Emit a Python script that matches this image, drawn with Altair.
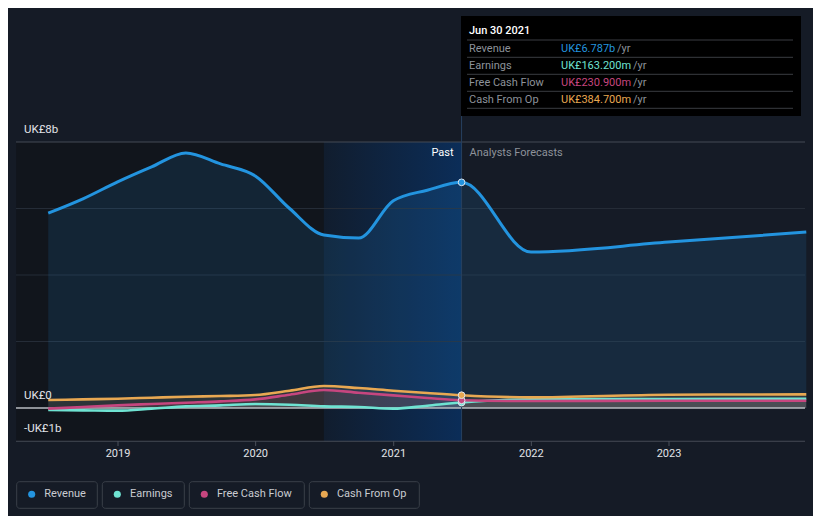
import altair as alt
import pandas as pd

BG = "#151b26"
FONT = "Roboto"

# ---------------- data ----------------
past_dates = ["2018-06-30", "2018-09-30", "2018-12-31", "2019-03-31", "2019-06-30",
              "2019-09-30", "2019-12-31", "2020-03-31", "2020-06-30", "2020-09-30",
              "2020-12-31", "2021-03-31", "2021-06-30"]
forecast_dates = ["2021-12-31", "2022-12-31", "2023-12-31"]
dates = past_dates + forecast_dates

revenue = [5.86, 6.29, 6.80, 7.25, 7.67, 7.34, 6.98, 6.00, 5.20, 5.11, 6.23, 6.55, 6.787,
           4.69, 4.99, 5.29]
earnings = [-0.06, -0.07, -0.08, -0.02, 0.05, 0.08, 0.12, 0.10, 0.05, 0.03, -0.02, 0.07, 0.1632,
            0.26, 0.27, 0.28]
free_cash_flow = [-0.02, 0.03, 0.08, 0.12, 0.16, 0.20, 0.26, 0.40, 0.54, 0.46, 0.38, 0.30, 0.2309,
                  0.21, 0.22, 0.22]
cash_from_op = [0.24, 0.26, 0.28, 0.31, 0.34, 0.36, 0.39, 0.52, 0.66, 0.60, 0.52, 0.45, 0.3847,
                0.32, 0.40, 0.41]

series_names = ["Revenue", "Earnings", "Free Cash Flow", "Cash From Op"]
series_colors = ["#2394df", "#6fe3d2", "#c6467f", "#e8a852"]
series_values = [revenue, earnings, free_cash_flow, cash_from_op]

grid_values = [8, 6, 4, 2, 0, -1]
y_label_values = [8, 0, -1]
y_label_texts = ["UK£8b", "UK£0", "-UK£1b"]
x_tick_dates = ["2019-01-01", "2020-01-01", "2021-01-01", "2022-01-01", "2023-01-01"]
x_tick_labels = ["2019", "2020", "2021", "2022", "2023"]

past_end = "2021-06-30"
highlight_start = "2020-06-30"
plot_left = "2018-04-06"
tooltip_title = "Jun 30 2021"

# ---------------- tables ----------------
rows = []
for name, vals in zip(series_names, series_values):
    for d, v in zip(dates, vals):
        rows.append({"date": d, "value": v, "series": name})
df = pd.DataFrame(rows)
df_rev = df[df.series == "Revenue"]
df_small = df[df.series != "Revenue"]
df_mark = df[df.date == past_end]

# ---------------- scales ----------------
W, H = 805, 508
# calibration: 2019-01-01 -> chart x 110, 2023-01-01 -> chart x 661
t19 = pd.Timestamp("2019-01-01").value / 1e6
t23 = pd.Timestamp("2023-01-01").value / 1e6
ms_per_px = (t23 - t19) / (661 - 110)
x_domain = [t19 - 110 * ms_per_px, t19 + (W - 110) * ms_per_px]
x_scale = alt.Scale(domain=x_domain)
y_scale = alt.Scale(domain=[(400 - H) / 33.25, 400 / 33.25], nice=False, zero=False)
color_scale = alt.Scale(domain=series_names, range=series_colors)

X = lambda f: alt.X(f, type="temporal", scale=x_scale, axis=None)
Y = lambda f: alt.Y(f, type="quantitative", scale=y_scale, axis=None)

layers = []

# background regions
regions = pd.DataFrame({"start": [plot_left], "end": [highlight_start], "lo": [-1], "hi": [8]})
layers.append(alt.Chart(regions).mark_rect(color="#11151c").encode(
    x=X("start"), x2="end", y=Y("lo"), y2="hi"))
hl = pd.DataFrame({"start": [highlight_start], "end": [past_end], "lo": [-1], "hi": [8]})
layers.append(alt.Chart(hl).mark_rect(
    fill=alt.Gradient(gradient="linear",
                      stops=[alt.GradientStop(color="#111d2e", offset=0),
                             alt.GradientStop(color="#0b2d58", offset=1)],
                      x1=0, x2=1, y1=0, y2=0)).encode(
    x=X("start"), x2="end", y=Y("lo"), y2="hi"))

# gridlines
gdf = pd.DataFrame({"v": grid_values})
gdf["kind"] = ["edge" if v in (8, -1) else ("zero" if v == 0 else "mid") for v in grid_values]
layers.append(alt.Chart(gdf[gdf.kind == "mid"]).mark_rule(color="#252c37", strokeWidth=1).encode(
    y=Y("v"), x=alt.value(8), x2=alt.value(797)))
layers.append(alt.Chart(gdf[gdf.kind == "edge"]).mark_rule(color="#454b55", strokeWidth=1).encode(
    y=Y("v"), x=alt.value(8), x2=alt.value(797)))

# areas
layers.append(alt.Chart(df_rev).mark_area(interpolate="monotone", opacity=0.13).encode(
    x=X("date"), y=Y("value"), y2=alt.datum(0),
    color=alt.Color("series:N", scale=color_scale, legend=None)))
layers.append(alt.Chart(df_small).mark_area(interpolate="monotone", opacity=0.12).encode(
    x=X("date"), y=Y("value"), y2=alt.datum(0),
    color=alt.Color("series:N", scale=color_scale, legend=None),
    detail="series:N"))

# zero line
layers.append(alt.Chart(gdf[gdf.kind == "zero"]).mark_rule(color="#b8bcc2", strokeWidth=1.5).encode(
    y=Y("v"), x=alt.value(8), x2=alt.value(797)))

# lines
layers.append(alt.Chart(df_small).mark_line(interpolate="monotone", strokeWidth=2.6).encode(
    x=X("date"), y=Y("value"),
    color=alt.Color("series:N", scale=color_scale, legend=None),
    order=alt.Order("series:N")))
layers.append(alt.Chart(df_rev).mark_line(interpolate="monotone", strokeWidth=3).encode(
    x=X("date"), y=Y("value"),
    color=alt.Color("series:N", scale=color_scale, legend=None)))

# past / forecast divider
div = pd.DataFrame({"date": [past_end]})
layers.append(alt.Chart(div).mark_rule(color="#27405f", strokeWidth=1).encode(
    x=X("date"), y=alt.value(8), y2=alt.value(433)))

# markers
layers.append(alt.Chart(df_mark).mark_point(filled=True, size=45, stroke="#dfe6ee",
                                              strokeWidth=1, opacity=1).encode(
    x=X("date"), y=Y("value"),
    fill=alt.Fill("series:N", scale=color_scale, legend=None)))

# y labels
ydf = pd.DataFrame({"v": y_label_values, "t": y_label_texts})
layers.append(alt.Chart(ydf).mark_text(align="left", baseline="middle", dy=-12, fontSize=11.5,
                                       font=FONT, color="#e2e4e8").encode(
    y=Y("v"), x=alt.value(16), text="t:N"))

# x ticks and labels
xdf = pd.DataFrame({"d": x_tick_dates, "t": x_tick_labels})
layers.append(alt.Chart(xdf).mark_rule(color="#4a505a").encode(
    x=X("d"), y=alt.value(433), y2=alt.value(438)))
layers.append(alt.Chart(xdf).mark_text(baseline="middle", fontSize=11, font=FONT,
                                       color="#e2e4e8").encode(
    x=X("d"), y=alt.value(446), text="t:N"))

# Past / Analysts Forecasts
layers.append(alt.Chart(div).mark_text(align="right", baseline="middle", dx=-8, fontSize=11,
                                       font=FONT, color="#ffffff", text="Past").encode(
    x=X("date"), y=alt.value(145)))
layers.append(alt.Chart(div).mark_text(align="left", baseline="middle", dx=8, fontSize=11,
                                       font=FONT, color="#8d929a",
                                       text="Analysts Forecasts").encode(
    x=X("date"), y=alt.value(145)))

# tooltip box
tip = pd.DataFrame({"k": [0]})
layers.append(alt.Chart(tip).mark_rect(color="#000000").encode(
    x=alt.value(453), x2=alt.value(793), y=alt.value(8), y2=alt.value(108)))
layers.append(alt.Chart(tip).mark_text(align="left", baseline="middle", fontSize=11, font=FONT,
                                       color="#ffffff", fontWeight=500, text=tooltip_title).encode(
    x=alt.value(461), y=alt.value(23)))
sep_y = [32, 49.3, 66.3, 83.3, 100.3]
for sy in sep_y:
    layers.append(alt.Chart(tip).mark_rule(color="#3a3d42", strokeWidth=1).encode(
        x=alt.value(459), x2=alt.value(785), y=alt.value(sy)))

def fmt(v):
    return f"UK£{v:.3f}b" if abs(v) >= 1 else f"UK£{v * 1000:.3f}m"

row_y = [40.5, 57.7, 74.7, 91.5]
yr_x = [609, 625, 625, 625]
idx = dates.index(past_end)
for name, col, vals, ry, yx in zip(series_names, series_colors, series_values, row_y, yr_x):
    layers.append(alt.Chart(tip).mark_text(align="left", baseline="middle", fontSize=11,
                                           font=FONT, color="#8d929a", text=name).encode(
        x=alt.value(461), y=alt.value(ry)))
    layers.append(alt.Chart(tip).mark_text(align="left", baseline="middle", fontSize=11,
                                           font=FONT, color=col, text=fmt(vals[idx])).encode(
        x=alt.value(553), y=alt.value(ry)))
    layers.append(alt.Chart(tip).mark_text(align="left", baseline="middle", fontSize=11,
                                           font=FONT, color="#8d929a", text="/yr").encode(
        x=alt.value(yx), y=alt.value(ry)))

# legend buttons
box_x = [(8.7, 89.3), (94.3, 176.3), (181.3, 296.3), (301.3, 411.3)]
for name, col, (bx0, bx1) in zip(series_names, series_colors, box_x):
    layers.append(alt.Chart(tip).mark_rect(fill=BG, stroke="#3a4049", strokeWidth=1,
                                           cornerRadius=3).encode(
        x=alt.value(bx0), x2=alt.value(bx1), y=alt.value(473.7), y2=alt.value(500.3)))
    layers.append(alt.Chart(tip).mark_circle(size=50, color=col, opacity=1).encode(
        x=alt.value(bx0 + 15), y=alt.value(486.3)))
    layers.append(alt.Chart(tip).mark_text(align="left", baseline="middle", fontSize=11,
                                           font=FONT, color="#c9ccd1", text=name).encode(
        x=alt.value(bx0 + 27.6), y=alt.value(486.3)))

chart = alt.layer(*layers).properties(
    width=W, height=H, padding=0, background=BG,
    autosize=alt.AutoSizeParams(type="none"),
).configure_view(stroke=None)

chart.save("out.html", embed_options={"renderer": "svg", "actions": False})
